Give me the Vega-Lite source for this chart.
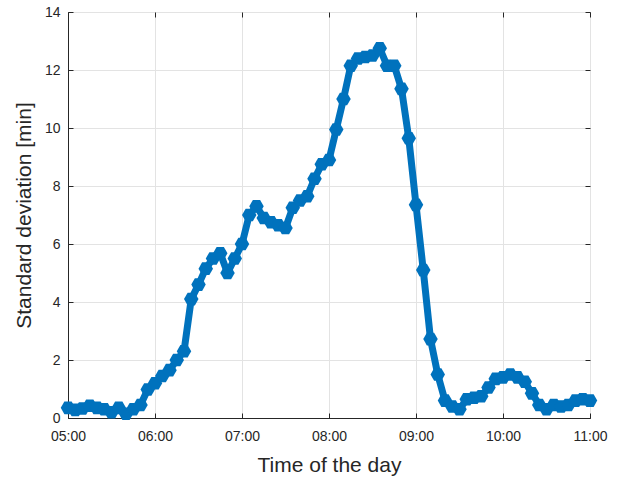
{
  "$schema": "https://vega.github.io/schema/vega-lite/v6.json",
  "width": 522,
  "height": 406,
  "autosize": {"type": "none"},
  "padding": {"left": 68, "top": 12, "right": 31, "bottom": 59},
  "background": "white",
  "config": {
    "view": {"stroke": "#262626", "strokeWidth": 1},
    "axis": {
      "domainColor": "#262626",
      "tickColor": "#262626",
      "gridColor": "#e3e3e3",
      "gridWidth": 1,
      "labelColor": "#262626",
      "titleColor": "#262626",
      "labelFont": "Liberation Sans",
      "titleFont": "Liberation Sans",
      "labelFontSize": 14,
      "titleFontSize": 21,
      "titleFontWeight": "normal",
      "tickSize": -5
    }
  },
  "data": {
    "values": [
      {"time": "05:00", "sd": 0.35},
      {"time": "05:05", "sd": 0.28},
      {"time": "05:10", "sd": 0.33},
      {"time": "05:15", "sd": 0.42},
      {"time": "05:20", "sd": 0.35},
      {"time": "05:25", "sd": 0.3},
      {"time": "05:30", "sd": 0.2},
      {"time": "05:35", "sd": 0.35},
      {"time": "05:40", "sd": 0.15},
      {"time": "05:45", "sd": 0.3},
      {"time": "05:50", "sd": 0.45},
      {"time": "05:55", "sd": 0.98},
      {"time": "06:00", "sd": 1.2},
      {"time": "06:05", "sd": 1.45},
      {"time": "06:10", "sd": 1.65},
      {"time": "06:15", "sd": 2.0},
      {"time": "06:20", "sd": 2.3},
      {"time": "06:25", "sd": 4.1},
      {"time": "06:30", "sd": 4.6},
      {"time": "06:35", "sd": 5.15},
      {"time": "06:40", "sd": 5.5},
      {"time": "06:45", "sd": 5.68},
      {"time": "06:50", "sd": 5.0},
      {"time": "06:55", "sd": 5.5},
      {"time": "07:00", "sd": 6.0},
      {"time": "07:05", "sd": 7.0},
      {"time": "07:10", "sd": 7.3},
      {"time": "07:15", "sd": 6.9},
      {"time": "07:20", "sd": 6.75},
      {"time": "07:25", "sd": 6.65},
      {"time": "07:30", "sd": 6.55},
      {"time": "07:35", "sd": 7.25},
      {"time": "07:40", "sd": 7.5},
      {"time": "07:45", "sd": 7.65},
      {"time": "07:50", "sd": 8.25},
      {"time": "07:55", "sd": 8.75},
      {"time": "08:00", "sd": 8.9},
      {"time": "08:05", "sd": 9.95},
      {"time": "08:10", "sd": 11.0},
      {"time": "08:15", "sd": 12.15},
      {"time": "08:20", "sd": 12.4},
      {"time": "08:25", "sd": 12.45},
      {"time": "08:30", "sd": 12.5},
      {"time": "08:35", "sd": 12.75},
      {"time": "08:40", "sd": 12.15},
      {"time": "08:45", "sd": 12.15},
      {"time": "08:50", "sd": 11.35},
      {"time": "08:55", "sd": 9.65},
      {"time": "09:00", "sd": 7.35},
      {"time": "09:05", "sd": 5.1},
      {"time": "09:10", "sd": 2.72},
      {"time": "09:15", "sd": 1.5},
      {"time": "09:20", "sd": 0.6},
      {"time": "09:25", "sd": 0.4},
      {"time": "09:30", "sd": 0.3},
      {"time": "09:35", "sd": 0.65},
      {"time": "09:40", "sd": 0.7},
      {"time": "09:45", "sd": 0.75},
      {"time": "09:50", "sd": 1.05},
      {"time": "09:55", "sd": 1.35},
      {"time": "10:00", "sd": 1.4},
      {"time": "10:05", "sd": 1.5},
      {"time": "10:10", "sd": 1.4},
      {"time": "10:15", "sd": 1.25},
      {"time": "10:20", "sd": 0.85},
      {"time": "10:25", "sd": 0.45},
      {"time": "10:30", "sd": 0.3},
      {"time": "10:35", "sd": 0.45},
      {"time": "10:40", "sd": 0.4},
      {"time": "10:45", "sd": 0.45},
      {"time": "10:50", "sd": 0.6},
      {"time": "10:55", "sd": 0.65},
      {"time": "11:00", "sd": 0.6}
    ],
    "format": {"parse": {"time": "date:'%H:%M'"}}
  },
  "encoding": {
    "x": {
      "field": "time",
      "type": "temporal",
      "scale": {
        "domain": [
          {"year": 1900, "month": 1, "date": 1, "hours": 5},
          {"year": 1900, "month": 1, "date": 1, "hours": 11}
        ]
      }
    },
    "y": {
      "field": "sd",
      "type": "quantitative",
      "scale": {"domain": [0, 14], "nice": false}
    }
  },
  "layer": [
    {
      "mark": {"type": "line", "color": "#0072BD", "strokeWidth": 7, "strokeJoin": "round", "strokeCap": "round"},
      "encoding": {
        "x": {
          "field": "time",
          "type": "temporal",
          "axis": {
            "title": "Time of the day",
            "format": "%H:%M",
            "values": [
              {"year": 1900, "month": 1, "date": 1, "hours": 5},
              {"year": 1900, "month": 1, "date": 1, "hours": 6},
              {"year": 1900, "month": 1, "date": 1, "hours": 7},
              {"year": 1900, "month": 1, "date": 1, "hours": 8},
              {"year": 1900, "month": 1, "date": 1, "hours": 9},
              {"year": 1900, "month": 1, "date": 1, "hours": 10},
              {"year": 1900, "month": 1, "date": 1, "hours": 11}
            ],
            "labelPadding": 16,
            "titlePadding": 11,
            "labelFlush": false
          }
        },
        "y": {
          "field": "sd",
          "type": "quantitative",
          "axis": {
            "title": "Standard deviation [min]",
            "values": [0, 2, 4, 6, 8, 10, 12, 14],
            "labelPadding": 13,
            "titlePadding": 10
          }
        }
      }
    },
    {
      "mark": {
        "type": "point",
        "filled": true,
        "opacity": 1,
        "color": "#0072BD",
        "size": 210,
        "shape": "M -1 0 L -0.5 -0.866 L 0.5 -0.866 L 1 0 L 0.5 0.866 L -0.5 0.866 Z"
      },
      "encoding": {
        "x": {
          "field": "time",
          "type": "temporal",
          "axis": {
            "orient": "top",
            "labels": false,
            "title": null,
            "grid": false,
            "domain": false,
            "values": [
              {"year": 1900, "month": 1, "date": 1, "hours": 5},
              {"year": 1900, "month": 1, "date": 1, "hours": 6},
              {"year": 1900, "month": 1, "date": 1, "hours": 7},
              {"year": 1900, "month": 1, "date": 1, "hours": 8},
              {"year": 1900, "month": 1, "date": 1, "hours": 9},
              {"year": 1900, "month": 1, "date": 1, "hours": 10},
              {"year": 1900, "month": 1, "date": 1, "hours": 11}
            ]
          }
        },
        "y": {
          "field": "sd",
          "type": "quantitative",
          "axis": {
            "orient": "right",
            "labels": false,
            "title": null,
            "grid": false,
            "domain": false,
            "values": [0, 2, 4, 6, 8, 10, 12, 14]
          }
        }
      }
    }
  ],
  "resolve": {"axis": {"x": "independent", "y": "independent"}}
}
